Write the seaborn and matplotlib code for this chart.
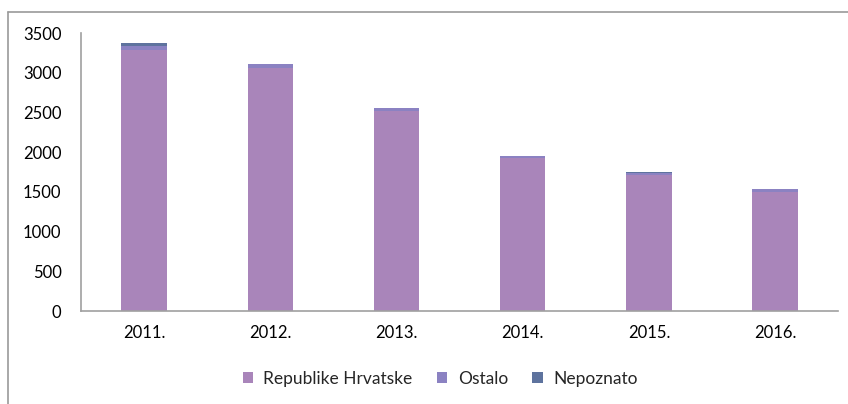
import numpy as np
import pandas as pd
import matplotlib.pyplot as plt
import seaborn as sns
from matplotlib.lines import Line2D
from matplotlib.patches import Patch

sns.set_theme(style='white')
plt.rcParams['font.family'] = ['Lato', 'DejaVu Sans']

# Data
years = ['2011.', '2012.', '2013.', '2014.', '2015.', '2016.']
republike = [3285, 3065, 2520, 1928, 1708, 1497]
ostalo = [55, 45, 35, 25, 35, 40]
nepoznato = [30, 5, 5, 3, 5, 5]

series_names = ['Republike Hrvatske', 'Ostalo', 'Nepoznato']
colors = ['#A985BA', '#8B82C2', '#5E739E']

fig = plt.figure(figsize=(8.48, 4.04), dpi=100)
ax = fig.add_axes([0.0955, 0.230, 0.893, 0.688])

df = pd.DataFrame({'year': years, 'rep': republike, 'ost': ostalo, 'nep': nepoznato})
bottom1 = np.array(republike)
bottom2 = bottom1 + np.array(ostalo)

sns.barplot(data=df, x='year', y='rep', color=colors[0], width=0.36,
            saturation=1, ax=ax, linewidth=0)
sns.barplot(data=df, x='year', y='ost', color=colors[1], width=0.36,
            saturation=1, ax=ax, bottom=bottom1, linewidth=0)
sns.barplot(data=df, x='year', y='nep', color=colors[2], width=0.36,
            saturation=1, ax=ax, bottom=bottom2, linewidth=0)

ax.set_ylim(0, 3500)
ax.set_yticks(range(0, 3501, 500))
ax.set_xlim(-0.5, 5.5)
ax.set_xlabel('')
ax.set_ylabel('')
ax.tick_params(axis='y', length=0, pad=14, labelsize=12, labelcolor='#000000')
ax.tick_params(axis='x', length=0, pad=10, labelsize=12, labelcolor='#000000')

sns.despine(ax=ax, top=True, right=True)
for side in ['left', 'bottom']:
    ax.spines[side].set_color('#A0A0A0')
    ax.spines[side].set_linewidth(1.2)

# outer chart frame (top and left edges visible)
fig.add_artist(Line2D([8 / 848, 1.0], [1 - 12 / 404, 1 - 12 / 404],
                      transform=fig.transFigure, color='#9A9A9A', lw=1.2))
fig.add_artist(Line2D([8 / 848, 8 / 848], [0.0, 1 - 12 / 404],
                      transform=fig.transFigure, color='#9A9A9A', lw=1.2))

handles = [Patch(facecolor=c, edgecolor='none') for c in colors]
fig.legend(handles, series_names, loc='center', bbox_to_anchor=(0.519, 0.062),
           ncol=3, frameon=False, fontsize=12.5, handlelength=0.6, handleheight=0.6,
           handletextpad=0.6, columnspacing=1.4)

fig.savefig('out.png', dpi=100)
